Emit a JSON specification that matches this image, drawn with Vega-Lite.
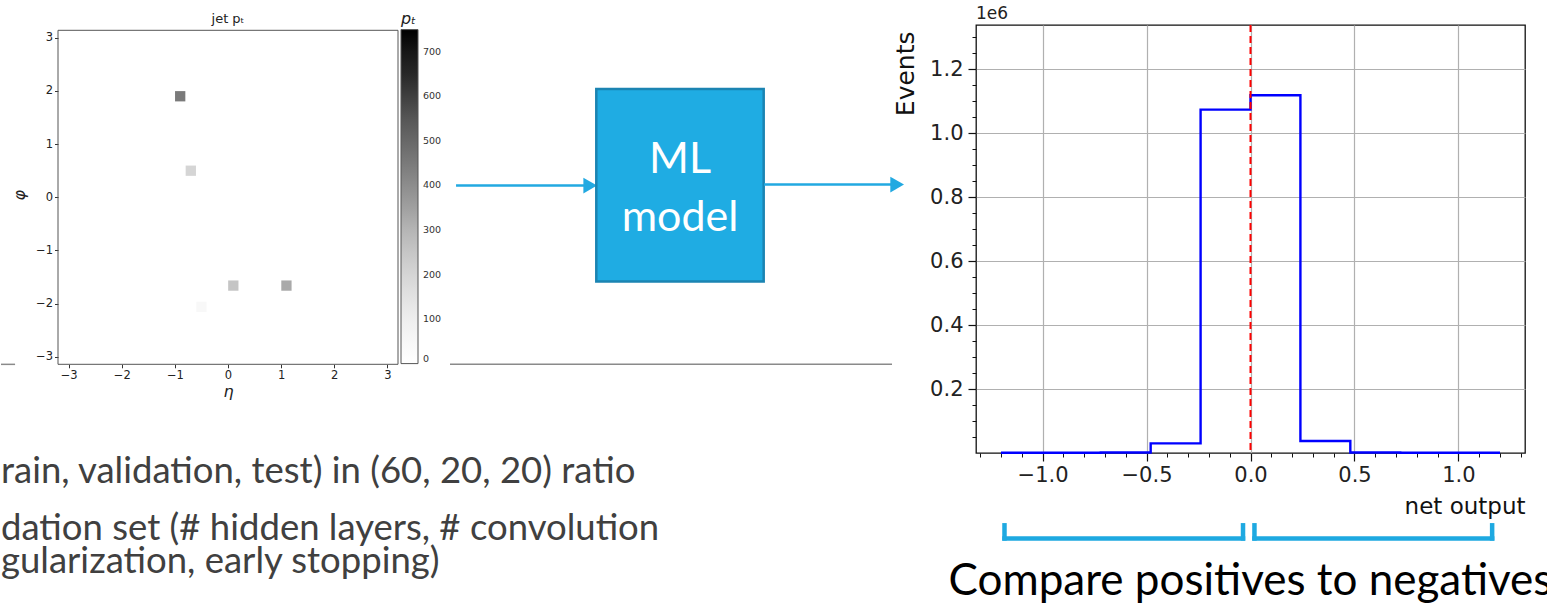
{
  "$schema": "https://vega.github.io/schema/vega-lite/v6.json",
  "background": "white",
  "padding": {"left": 0, "top": 4, "right": 0, "bottom": 0},
  "config": {"view": {"stroke": null}, "font": "DejaVu Sans"},
  "datasets": {
    "jet_pixels": [
      {"eta": -0.9, "phi": 1.9, "pt": 450},
      {"eta": -0.7, "phi": 0.5, "pt": 200},
      {"eta": 0.1, "phi": -1.66, "pt": 255},
      {"eta": 1.1, "phi": -1.66, "pt": 330},
      {"eta": -0.5, "phi": -2.06, "pt": 45}
    ],
    "net_output_hist": [
      {"edge": -1.2, "events": 800},
      {"edge": -0.96, "events": 800},
      {"edge": -0.72, "events": 1500},
      {"edge": -0.48, "events": 30000},
      {"edge": -0.24, "events": 1073000},
      {"edge": 0.0, "events": 1118000},
      {"edge": 0.24, "events": 37500},
      {"edge": 0.48, "events": 1500},
      {"edge": 0.72, "events": 800},
      {"edge": 0.96, "events": 800},
      {"edge": 1.2, "events": 800}
    ],
    "score_ranges": [
      {"side": "negatives", "lo": -1.183, "hi": -0.036},
      {"side": "positives", "lo": 0.019, "hi": 1.162}
    ]
  },
  "columns": 3,
  "align": "each",
  "bounds": "flush",
  "spacing": 0,
  "center": {"row": false, "column": true},
  "concat": [
    {
      "width": 340, "height": 339.3,
      "title": {"text": "jet pₜ", "font": "DejaVu Sans", "fontSize": 13, "fontWeight": "normal", "color": "#222", "offset": -1},
      "data": {"name": "jet_pixels"},
      "layer": [
        {
          "mark": {"type": "square", "size": 106, "opacity": 1, "filled": true},
          "encoding": {
            "x": {
              "field": "eta", "type": "quantitative",
              "scale": {"domain": [-3.2, 3.2], "nice": false, "zero": false},
              "axis": {"title": "η", "values": [-3, -2, -1, 0, 1, 2, 3], "format": "d", "grid": false, "domain": false,
                "tickSize": 3.5, "tickColor": "#333", "labelFont": "DejaVu Sans", "labelFontSize": 11.5, "labelColor": "#222", "labelPadding": 2,
                "titleFont": "DejaVu Sans", "titleFontSize": 16, "titleFontStyle": "italic", "titleFontWeight": "normal", "titleColor": "#222", "titlePadding": 2}
            },
            "y": {
              "field": "phi", "type": "quantitative",
              "scale": {"domain": [-3.14, 3.2397], "nice": false, "zero": false},
              "axis": {"title": "φ", "values": [-3, -2, -1, 0, 1, 2, 3], "format": "d", "grid": false, "domain": false,
                "tickSize": 3.5, "tickColor": "#333", "labelFont": "DejaVu Sans", "labelFontSize": 11.5, "labelColor": "#222", "labelPadding": 2,
                "titleFont": "DejaVu Sans", "titleFontSize": 16, "titleFontStyle": "italic", "titleFontWeight": "normal", "titleColor": "#222", "titlePadding": 8}
            },
            "color": {
              "field": "pt", "type": "quantitative",
              "scale": {
                "domain": [0, 93.75, 187.5, 281.25, 375, 468.75, 562.5, 656.25, 750],
                "range": ["#ffffff", "#f0f0f0", "#d9d9d9", "#bdbdbd", "#969696", "#737373", "#525252", "#252525", "#000000"]
              },
              "legend": {
                "orient": "none", "legendX": 400, "legendY": -14.4, "direction": "vertical", "padding": 0,
                "title": "pₜ", "titleFont": "DejaVu Sans", "titleFontSize": 16, "titleFontStyle": "italic", "titleFontWeight": "normal", "titleColor": "#222", "titlePadding": 3,
                "gradientLength": 334, "gradientThickness": 17, "gradientStrokeColor": "#555", "gradientStrokeWidth": 1,
                "values": [0, 100, 200, 300, 400, 500, 600, 700],
                "labelFont": "DejaVu Sans", "labelFontSize": 9.5, "labelColor": "#333", "labelOffset": 5
              }
            }
          }
        },
        {
          "data": {"values": [{"frame": "image bounds"}]},
          "mark": {"type": "rule", "color": "#555", "strokeWidth": 1},
          "encoding": {
            "x": {"datum": -3.2},
            "x2": {"datum": 3.2},
            "y": {"datum": 3.14}
          }
        },
        {
          "data": {"values": [{"frame": "image bounds"}]},
          "mark": {"type": "rule", "color": "#555", "strokeWidth": 1},
          "encoding": {
            "x": {"datum": -3.2},
            "x2": {"datum": 3.2},
            "y": {"datum": -3.14}
          }
        },
        {
          "data": {"values": [{"frame": "image bounds"}]},
          "mark": {"type": "rule", "color": "#555", "strokeWidth": 1},
          "encoding": {
            "x": {"datum": -3.2},
            "y": {"datum": -3.14},
            "y2": {"datum": 3.14}
          }
        },
        {
          "data": {"values": [{"frame": "image bounds"}]},
          "mark": {"type": "rule", "color": "#555", "strokeWidth": 1},
          "encoding": {
            "x": {"datum": 3.2},
            "y": {"datum": -3.14},
            "y2": {"datum": 3.14}
          }
        }
      ]
    },
    {
      "width": 521, "height": 428,
      "data": {"values": [{"block": "ML\nmodel"}]},
      "layer": [
        {
          "mark": {"type": "rule", "color": "#8a8a8a", "strokeWidth": 1.5},
          "encoding": {
            "x": {"datum": -0.0096, "scale": {"domain": [0, 1]}, "axis": null},
            "x2": {"datum": 0.8388},
            "y": {"datum": 0.7928, "scale": {"domain": [0, 1], "reverse": true}, "axis": null}
          }
        },
        {
          "mark": {"type": "rule", "color": "#22a9e1", "strokeWidth": 2.5},
          "encoding": {
            "x": {"datum": 0.002, "scale": {"domain": [0, 1]}, "axis": null},
            "x2": {"datum": 0.26},
            "y": {"datum": 0.3752, "scale": {"domain": [0, 1], "reverse": true}, "axis": null}
          }
        },
        {
          "mark": {"type": "point", "shape": "triangle-right", "size": 250, "filled": true, "opacity": 1, "color": "#22a9e1"},
          "encoding": {
            "x": {"datum": 0.2595, "scale": {"domain": [0, 1]}, "axis": null},
            "y": {"datum": 0.3752, "scale": {"domain": [0, 1], "reverse": true}, "axis": null}
          }
        },
        {
          "mark": {"type": "rect", "fill": "#1face3", "stroke": "#1b84b2", "strokeWidth": 2.5},
          "encoding": {
            "x": {"datum": 0.2712, "scale": {"domain": [0, 1]}, "axis": null},
            "x2": {"datum": 0.5925},
            "y": {"datum": 0.1495, "scale": {"domain": [0, 1], "reverse": true}, "axis": null},
            "y2": {"datum": 0.5995}
          }
        },
        {
          "mark": {"type": "text", "align": "center", "baseline": "middle", "lineBreak": "\n", "lineHeight": 58, "font": "Lato", "fontSize": 43, "color": "white"},
          "encoding": {
            "text": {"field": "block"},
            "x": {"datum": 0.4319, "scale": {"domain": [0, 1]}, "axis": null},
            "y": {"datum": 0.3161, "scale": {"domain": [0, 1], "reverse": true}, "axis": null}
          }
        },
        {
          "mark": {"type": "rule", "color": "#22a9e1", "strokeWidth": 2.5},
          "encoding": {
            "x": {"datum": 0.5931, "scale": {"domain": [0, 1]}, "axis": null},
            "x2": {"datum": 0.849},
            "y": {"datum": 0.3729, "scale": {"domain": [0, 1], "reverse": true}, "axis": null}
          }
        },
        {
          "mark": {"type": "point", "shape": "triangle-right", "size": 250, "filled": true, "opacity": 1, "color": "#22a9e1"},
          "encoding": {
            "x": {"datum": 0.8487, "scale": {"domain": [0, 1]}, "axis": null},
            "y": {"datum": 0.3729, "scale": {"domain": [0, 1], "reverse": true}, "axis": null}
          }
        }
      ]
    },
    {
      "width": 549, "height": 428,
      "view": {"stroke": "#111", "strokeWidth": 1.3},
      "resolve": {"axis": {"x": "independent", "y": "independent"}},
      "layer": [
        {
          "data": {"name": "net_output_hist"},
          "mark": {"type": "line", "interpolate": "step-after", "color": "#0000ff", "strokeWidth": 2.4},
          "encoding": {
            "x": {
              "field": "edge", "type": "quantitative",
              "scale": {"domain": [-1.32, 1.32], "nice": false, "zero": false},
              "axis": {"orient": "bottom", "values": [-1, -0.5, 0, 0.5, 1], "format": ".1f",
                "grid": true, "gridColor": "#b0b0b0", "gridWidth": 1.2, "domain": false,
                "tickSize": 8, "tickWidth": 1.2, "tickColor": "#111",
                "labelFont": "DejaVu Sans", "labelFontSize": 21, "labelColor": "#222", "labelPadding": 3,
                "title": "net output", "titleFont": "DejaVu Sans", "titleFontSize": 23, "titleFontWeight": "normal", "titleColor": "#111",
                "titleAnchor": "end", "titleAlign": "right", "titleBaseline": "top", "titlePadding": 10}
            },
            "y": {
              "field": "events", "type": "quantitative",
              "scale": {"domain": [0, 1337500], "nice": false, "zero": false},
              "axis": {"orient": "left", "values": [200000, 400000, 600000, 800000, 1000000, 1200000],
                "labelExpr": "format(datum.value / 1e6, '.1f')",
                "grid": true, "gridColor": "#b0b0b0", "gridWidth": 1.2, "domain": false,
                "tickSize": 8, "tickWidth": 1.2, "tickColor": "#111",
                "labelFont": "DejaVu Sans", "labelFontSize": 21, "labelColor": "#222", "labelPadding": 5,
                "title": "Events", "titleFont": "DejaVu Sans", "titleFontSize": 25, "titleFontWeight": "normal", "titleColor": "#111",
                "titleAnchor": "end", "titleY": 6, "titlePadding": 11}
            }
          }
        },
        {
          "data": {"name": "net_output_hist"},
          "mark": {"type": "point", "opacity": 0},
          "encoding": {
            "x": {
              "field": "edge", "type": "quantitative",
              "scale": {"domain": [-1.32, 1.32], "nice": false, "zero": false},
              "axis": {"orient": "bottom", "values": [-1.3, -1.2, -1.1, -0.9, -0.8, -0.7, -0.6, -0.4, -0.3, -0.2, -0.1, 0.1, 0.2, 0.3, 0.4, 0.6, 0.7, 0.8, 0.9, 1.1, 1.2, 1.3],
                "labels": false, "grid": false, "domain": false, "tickSize": 4, "tickWidth": 1, "tickColor": "#111", "title": null}
            },
            "y": {
              "field": "events", "type": "quantitative",
              "scale": {"domain": [0, 1337500], "nice": false, "zero": false},
              "axis": {"orient": "left", "values": [50000, 100000, 150000, 250000, 300000, 350000, 450000, 500000, 550000, 650000, 700000, 750000, 850000, 900000, 950000, 1050000, 1100000, 1150000, 1250000, 1300000],
                "labels": false, "grid": false, "domain": false, "tickSize": 4, "tickWidth": 1, "tickColor": "#111", "title": null}
            }
          }
        },
        {
          "data": {"values": [{"threshold": 0}]},
          "mark": {"type": "rule", "color": "#ff0000", "strokeWidth": 2, "strokeDash": [7, 4]},
          "encoding": {
            "x": {"field": "threshold", "type": "quantitative", "scale": {"domain": [-1.32, 1.32], "nice": false, "zero": false}, "axis": null}
          }
        },
        {
          "data": {"values": [{"multiplier": "1e6"}]},
          "mark": {"type": "text", "align": "left", "baseline": "alphabetic", "dy": -6, "font": "DejaVu Sans", "fontSize": 17, "color": "#222"},
          "encoding": {
            "text": {"field": "multiplier"},
            "x": {"datum": -1.32, "scale": {"domain": [-1.32, 1.32], "nice": false, "zero": false}, "axis": null},
            "y": {"datum": 1337500, "scale": {"domain": [0, 1337500], "nice": false, "zero": false}, "axis": null}
          }
        },
        {
          "data": {"name": "score_ranges"},
          "mark": {"type": "rule", "color": "#1ea9e1", "strokeWidth": 4.5, "strokeCap": "square"},
          "encoding": {
            "x": {"field": "lo", "type": "quantitative", "scale": {"domain": [-1.32, 1.32], "nice": false, "zero": false}, "axis": null},
            "x2": {"field": "hi"},
            "y": {"datum": -267000, "scale": {"domain": [0, 1337500], "nice": false, "zero": false}, "axis": null}
          }
        },
        {
          "data": {"name": "score_ranges"},
          "mark": {"type": "rule", "color": "#1ea9e1", "strokeWidth": 4.5, "strokeCap": "square"},
          "encoding": {
            "x": {"field": "lo", "type": "quantitative", "scale": {"domain": [-1.32, 1.32], "nice": false, "zero": false}, "axis": null},
            "y": {"datum": -226000, "scale": {"domain": [0, 1337500], "nice": false, "zero": false}, "axis": null},
            "y2": {"datum": -267000}
          }
        },
        {
          "data": {"name": "score_ranges"},
          "mark": {"type": "rule", "color": "#1ea9e1", "strokeWidth": 4.5, "strokeCap": "square"},
          "encoding": {
            "x": {"field": "hi", "type": "quantitative", "scale": {"domain": [-1.32, 1.32], "nice": false, "zero": false}, "axis": null},
            "y": {"datum": -226000, "scale": {"domain": [0, 1337500], "nice": false, "zero": false}, "axis": null},
            "y2": {"datum": -267000}
          }
        },
        {
          "data": {"values": [{"caption": "Compare positives to negatives"}]},
          "mark": {"type": "text", "align": "center", "baseline": "alphabetic", "font": "Lato", "fontSize": 44, "color": "#000000"},
          "encoding": {
            "text": {"field": "caption"},
            "x": {"datum": 0, "scale": {"domain": [-1.32, 1.32], "nice": false, "zero": false}, "axis": null},
            "y": {"datum": -445000, "scale": {"domain": [0, 1337500], "nice": false, "zero": false}, "axis": null}
          }
        }
      ]
    },
    {
      "width": 454, "height": 150,
      "data": {"values": [
        {"bullet": "split", "line": "rain, validation, test) in (60, 20, 20) ratio"},
        {"bullet": "tune", "line": "dation set (# hidden layers, # convolution\ngularization, early stopping)"}
      ]},
      "layer": [
        {
          "transform": [{"filter": "datum.bullet === 'split'"}],
          "mark": {"type": "text", "align": "left", "baseline": "alphabetic", "font": "Lato", "fontSize": 36.5, "color": "#404040"},
          "encoding": {
            "text": {"field": "line"},
            "x": {"datum": 0, "scale": {"domain": [0, 1]}, "axis": null},
            "y": {"datum": 0.2, "scale": {"domain": [0, 1], "reverse": true}, "axis": null}
          }
        },
        {
          "transform": [{"filter": "datum.bullet === 'tune'"}],
          "mark": {"type": "text", "align": "left", "baseline": "alphabetic", "font": "Lato", "fontSize": 36.5, "color": "#404040", "lineBreak": "\n", "lineHeight": 33},
          "encoding": {
            "text": {"field": "line"},
            "x": {"datum": 0, "scale": {"domain": [0, 1]}, "axis": null},
            "y": {"datum": 0.58, "scale": {"domain": [0, 1], "reverse": true}, "axis": null}
          }
        },
        {
          "data": {"values": [{"divider": "slide rule"}]},
          "mark": {"type": "rule", "color": "#8a8a8a", "strokeWidth": 1.5},
          "encoding": {
            "x": {"datum": 0, "scale": {"domain": [0, 1]}, "axis": null},
            "x2": {"datum": 0.031},
            "y": {"datum": -0.591, "scale": {"domain": [0, 1], "reverse": true}, "axis": null}
          }
        }
      ]
    }
  ]
}
